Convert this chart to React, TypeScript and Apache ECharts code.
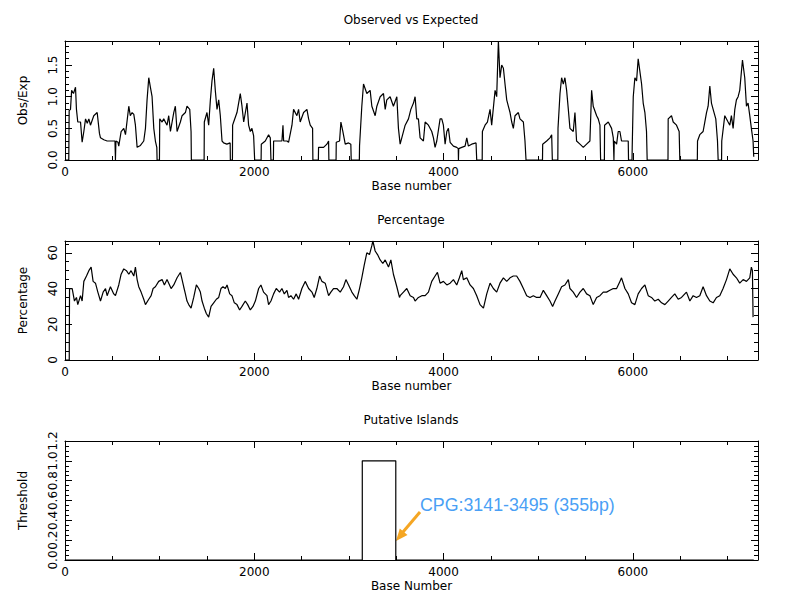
import React, { useEffect, useRef } from "react";
import * as echarts from "echarts";

const X_MAX = 7322;

const titles = ["Observed vs Expected", "Percentage", "Putative Islands"];
const xNames = ["Base number", "Base number", "Base Number"];
const yNames = ["Obs/Exp", "Percentage", "Threshold"];

// Observed vs Expected (base position, ratio)
const obsBase = [0,40,44,58,70,90,111,121,135,164,181,199,217,235,252,269,304,340,364,375,410,445,480,528,533,538,560,568,593,621,639,674,690,709,727,744,762,797,832,850,867,885,902,920,938,955,970,973,998,1001,1026,1043,1078,1096,1114,1149,1166,1184,1219,1237,1272,1289,1318,1332,1335,1470,1472,1500,1518,1536,1553,1571,1588,1606,1624,1641,1659,1676,1710,1745,1747,1769,1771,1782,1817,1852,1870,1888,1923,1940,1958,1975,1993,2004,2072,2074,2116,2151,2169,2176,2202,2204,2292,2303,2310,2345,2362,2398,2415,2450,2468,2485,2521,2556,2574,2591,2616,2619,2677,2679,2732,2767,2785,2788,2864,2866,2901,2915,2936,2961,2996,3020,3024,3110,3112,3136,3154,3189,3224,3242,3277,3295,3330,3365,3383,3400,3435,3470,3506,3523,3541,3594,3629,3654,3682,3699,3717,3734,3752,3787,3805,3840,3875,3893,3910,3928,3963,3981,3998,4016,4034,4051,4069,4104,4139,4155,4157,4160,4192,4227,4245,4262,4297,4343,4350,4408,4410,4438,4463,4491,4508,4544,4561,4579,4596,4614,4632,4649,4667,4684,4702,4720,4737,4755,4790,4807,4843,4860,4871,5045,5047,5089,5124,5142,5149,5207,5209,5230,5247,5265,5282,5300,5318,5335,5370,5388,5405,5441,5476,5511,5546,5564,5581,5617,5634,5652,5659,5699,5701,5740,5775,5793,5800,5803,5828,5845,5863,5880,5916,5951,5954,5991,5993,6004,6021,6039,6056,6074,6092,6109,6127,6144,6151,6371,6373,6408,6426,6461,6489,6496,6681,6683,6707,6742,6760,6778,6795,6813,6830,6848,6876,6894,6901,6937,6939,6971,7006,7024,7041,7059,7077,7094,7112,7129,7147,7158,7182,7200,7217,7235,7252,7270,7277];
const obsValue = [0,0,0.78,0.8,1.1,1.05,1.15,0.8,0.6,0.6,0.28,0.45,0.65,0.58,0.65,0.55,0.7,0.75,0.42,0.35,0.32,0.3,0.3,0.3,0,0.3,0.28,0.22,0.45,0.5,0.4,0.85,0.7,0.75,0.72,0.55,0.2,0.23,0.3,0.5,0.95,1.3,1.15,1.0,0.5,0.3,0.2,0,0,0.65,0.6,0.65,0.55,0.7,0.45,0.75,0.85,0.45,0.6,0.7,0.75,0.85,0.8,0.45,0,0,0.6,0.75,0.55,0.95,1.25,1.45,1.1,0.8,0.95,0.7,0.3,0.27,0.25,0.27,0,0,0.55,0.6,0.75,1.05,0.85,0.6,0.9,0.55,0.45,0.5,0.38,0,0,0.25,0.3,0.4,0.35,0,0,0.3,0.3,0.55,0.3,0.3,0.28,0.55,0.8,0.7,0.8,0.6,0.75,0.8,0.65,0.55,0.5,0,0,0.2,0.2,0.25,0.3,0,0,0.28,0.3,0.6,0.45,0.25,0.27,0.25,0,0,0.22,0.85,1.2,1.05,1.1,0.85,0.7,0.85,1.0,1.05,0.8,0.95,1.0,0.85,1.0,0.5,0.25,0.55,0.65,0.8,0.9,1.0,0.65,0.65,0.35,0.3,0.6,0.55,0.45,0.35,0.2,0.3,0.65,0.65,0.55,0.25,0.45,0.5,0.28,0.22,0.2,0.18,0,0.18,0.2,0.22,0.35,0.22,0.25,0.27,0,0,0.45,0.55,0.6,0.8,0.55,1.1,1.0,1.88,1.3,1.5,1.45,1.2,0.95,0.85,0.75,0.6,0.5,0.7,0.75,0.65,0.6,0.3,0,0,0.25,0.3,0.35,0.4,0,0,0.5,1.05,1.3,1.2,1.3,1.1,0.8,0.5,0.45,0.75,0.3,0.25,0.2,0.25,0.3,1.1,0.85,0.7,0.65,0.55,0,0,0.55,0.6,0.5,0.35,0,0.3,0.25,0.45,0.45,0.3,0.3,0.3,0,0,0.2,1.0,1.3,1.25,1.6,1.4,1.2,0.9,0.75,0.45,0,0,0.65,0.7,0.6,0.55,0.45,0,0,0.3,0.4,0.45,0.6,0.75,0.85,1.17,0.9,0.8,0.65,0.3,0,0,0.3,0.7,0.6,0.55,0.7,0.5,0.8,0.95,1.0,1.1,1.4,1.58,1.3,0.85,0.9,0.7,0.5,0.3,0.05];

// Percentage (base position, percent)
const pctBase = [0,45,48,76,100,121,135,164,181,199,227,252,276,297,322,347,375,403,428,445,480,515,533,568,593,621,649,674,698,727,744,762,779,804,832,850,885,910,931,955,990,1026,1050,1078,1096,1121,1149,1184,1219,1237,1254,1272,1289,1307,1332,1360,1388,1413,1430,1448,1472,1493,1518,1543,1571,1599,1624,1648,1669,1694,1712,1740,1764,1789,1817,1845,1870,1905,1930,1958,1986,2011,2046,2070,2098,2134,2151,2176,2204,2232,2267,2292,2317,2345,2362,2387,2415,2443,2468,2503,2538,2574,2609,2633,2661,2690,2714,2749,2785,2809,2837,2872,2908,2943,2968,2996,3031,3056,3084,3112,3136,3161,3189,3217,3242,3253,3277,3302,3330,3358,3383,3418,3443,3470,3506,3534,3541,3576,3611,3647,3682,3699,3734,3770,3805,3840,3875,3910,3935,3963,3998,4034,4069,4104,4139,4167,4192,4209,4245,4280,4315,4350,4385,4421,4456,4491,4526,4561,4596,4632,4667,4702,4737,4772,4807,4843,4878,4913,4948,4983,5019,5054,5089,5124,5152,5177,5212,5247,5282,5318,5335,5370,5405,5441,5476,5511,5546,5581,5617,5652,5687,5722,5757,5793,5828,5863,5880,5916,5951,5986,6021,6056,6092,6127,6162,6197,6232,6268,6303,6338,6373,6408,6443,6479,6514,6566,6602,6637,6672,6707,6742,6778,6813,6848,6883,6918,6953,6989,7024,7059,7094,7129,7165,7200,7235,7252,7263,7270];
const pctValue = [0,0,40,40,33,35,31,36,33,44,47,50,52,44,43,38,33,38,40,36,41,37,36,42,48,51,50,48,50,47,52,45,41,38,34,31,34,36,40,41,44,45,42,45,43,40,42,46,49,45,41,37,33,31,29,35,42,40,38,33,29,26,24,30,32,34,35,40,41,40,42,37,36,32,31,28,30,33,31,28,30,33,40,42,38,36,31,33,37,40,38,40,37,39,35,36,34,37,34,40,44,40,38,35,40,47,44,43,36,38,40,40,38,41,45,42,38,36,34,40,46,53,60,59,64,66.6,61,59,56,54,56,52,56,48,41,35,36,38,40,36,35,33,35,36,36,38,44,47,49,43,44,42,43,45,42,46,50,45,46,42,40,36,31,29,37,43,40,38,43,46,44,46,47,47,44,40,36,35,36,35,35,39,36,33,30,33,37,41,42,45,40,38,35,38,40,37,36,31,35,36,38,38,39,40,40,44,46,40,37,32,31,37,40,42,36,35,33,34,32,31,33,35,37,34,35,38,33,36,35,36,41,36,33,32,35,36,40,45,51,48,46,43,45,44,46,52,50,24];

// Putative islands (base position, threshold)
const islandBase = [0, 3141, 3141, 3495, 3495, 7277];
const islandValue = [0, 0, 1, 1, 0, 0];

const yMaxes = [1.88, 66.6, 1.2];
const yMajor = [0.5, 20, 0.2];
const yMinor = [0.1, 5, 0.05];
const yDecimals = [1, 0, 1];

const FONT = '"DejaVu Sans", sans-serif';
const BLACK = "#000";

const isMult = (v: number, step: number) => Math.abs(v / step - Math.round(v / step)) < 1e-6;

function gridTop(i: number) {
  return [41, 241, 441][i];
}

function makeXAxes(g: number) {
  const base: any = {
    type: "value", gridIndex: g, min: 0, max: X_MAX, splitLine: { show: false }, silent: true,
  };
  const line = { show: true, onZero: false, lineStyle: { color: BLACK, width: 1 } };
  const noLine = { show: false, onZero: false };
  return [
    {
      ...base, position: "bottom", interval: 2000, axisLine: line,
      axisTick: { show: true, inside: true, length: 7, lineStyle: { color: BLACK } },
      axisLabel: {
        show: true, margin: 6, color: BLACK, fontFamily: FONT, fontSize: 12,
        formatter: (v: number) => (isMult(v, 2000) ? String(Math.round(v)) : ""),
      },
      name: xNames[g], nameLocation: "middle", nameGap: 20,
      nameTextStyle: { color: BLACK, fontFamily: FONT, fontSize: 12 },
    },
    {
      ...base, position: "bottom", interval: 500, axisLine: noLine,
      axisTick: { show: true, inside: true, length: 4, lineStyle: { color: BLACK } },
      axisLabel: { show: false },
    },
    {
      ...base, position: "top", interval: 2000, axisLine: line,
      axisTick: { show: true, inside: true, length: 7, lineStyle: { color: BLACK } },
      axisLabel: { show: false },
    },
    {
      ...base, position: "top", interval: 500, axisLine: noLine,
      axisTick: { show: true, inside: true, length: 4, lineStyle: { color: BLACK } },
      axisLabel: { show: false },
    },
  ];
}

function makeYAxes(g: number) {
  const base: any = {
    type: "value", gridIndex: g, min: 0, max: yMaxes[g], splitLine: { show: false }, silent: true,
  };
  const line = { show: true, onZero: false, lineStyle: { color: BLACK, width: 1 } };
  const noLine = { show: false, onZero: false };
  const step = yMajor[g];
  return [
    {
      ...base, position: "left", interval: step, axisLine: line,
      axisTick: { show: true, inside: true, length: 7, lineStyle: { color: BLACK } },
      axisLabel: {
        show: true, rotate: 90, margin: 6, color: BLACK, fontFamily: FONT, fontSize: 12,
        formatter: (v: number) => (isMult(v, step) ? v.toFixed(yDecimals[g]) : ""),
      },
      name: yNames[g], nameLocation: "middle", nameGap: 36, nameRotate: 90,
      nameTextStyle: { color: BLACK, fontFamily: FONT, fontSize: 12 },
    },
    {
      ...base, position: "left", interval: yMinor[g], axisLine: noLine,
      axisTick: { show: true, inside: true, length: 4, lineStyle: { color: BLACK } },
      axisLabel: { show: false },
    },
    {
      ...base, position: "right", interval: step, axisLine: line,
      axisTick: { show: true, inside: true, length: 7, lineStyle: { color: BLACK } },
      axisLabel: { show: false },
    },
    {
      ...base, position: "right", interval: yMinor[g], axisLine: noLine,
      axisTick: { show: true, inside: true, length: 4, lineStyle: { color: BLACK } },
      axisLabel: { show: false },
    },
  ];
}

function pairs(xs: number[], ys: number[]) {
  return xs.map((x, i) => [x, ys[i]]);
}

export default function App() {
  const ref = useRef<HTMLDivElement>(null);
  useEffect(() => {
    if (!ref.current) return;
    const chart = echarts.init(ref.current, undefined, { renderer: "svg" });
    const grids = [0, 1, 2].map((i) => ({
      left: 65, top: gridTop(i), width: 693, height: 119, containLabel: false,
    }));
    const xAxis = [0, 1, 2].flatMap((g) => makeXAxes(g));
    const yAxis = [0, 1, 2].flatMap((g) => makeYAxes(g));
    const datasets = [pairs(obsBase, obsValue), pairs(pctBase, pctValue), pairs(islandBase, islandValue)];
    const series = datasets.map((d, g) => ({
      type: "line",
      xAxisIndex: g * 4,
      yAxisIndex: g * 4,
      data: d,
      symbol: "none",
      showSymbol: false,
      silent: true,
      lineStyle: { color: BLACK, width: 1.2 },
      z: 1,
    }));
    const titleTexts = titles.map((t, i) => ({
      type: "text",
      x: 411,
      y: [20, 220, 420][i],
      style: {
        text: t, fill: BLACK, font: `12px ${FONT}`,
        textAlign: "center", textVerticalAlign: "middle",
      },
    }));
    chart.setOption({
      animation: false,
      backgroundColor: "#fff",
      grid: grids,
      xAxis,
      yAxis,
      series,
      graphic: [
        ...titleTexts,
        {
          type: "text", x: 420, y: 505,
          style: {
            text: "CPG:3141-3495 (355bp)", fill: "#4a9ff5",
            font: '17.8px "Liberation Sans", Arial, sans-serif',
            textAlign: "left", textVerticalAlign: "middle",
          },
        },
        {
          type: "line",
          shape: { x1: 420, y1: 512, x2: 403, y2: 532 },
          style: { stroke: "#f5a623", lineWidth: 3 },
        },
        {
          type: "polygon",
          shape: { points: [[396, 541], [407.5, 534.9], [399.8, 528.5]] },
          style: { fill: "#f5a623" },
        },
      ],
    });
    return () => chart.dispose();
  }, []);
  return (
    <div
      ref={ref}
      style={{ position: "absolute", left: 0, top: 0, width: 800, height: 600, background: "#fff" }}
    />
  );
}
